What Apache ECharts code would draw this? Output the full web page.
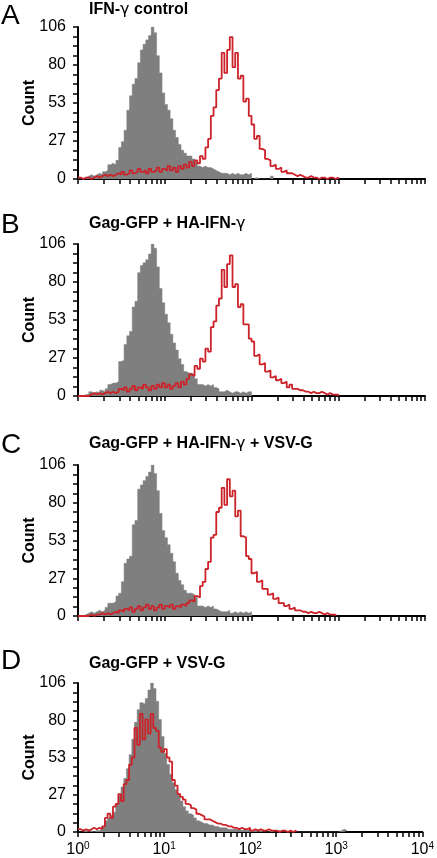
<!DOCTYPE html>
<html><head><meta charset="utf-8">
<script src="https://cdn.jsdelivr.net/npm/echarts@6/dist/echarts.min.js"></script>
<style>html,body{margin:0;padding:0;background:#fff}#c{width:437px;height:858px}</style>
</head><body><div id="c"></div>
<script>
// bin width in decades of fluorescence (log10 scale), bins start at 10^0
const BIN = 1 / 32;
const panelLetters = ['A', 'B', 'C', 'D'];
const panelTitles = [
  ['IFN-', 'γ', ' control'],
  ['Gag-GFP + HA-IFN-', 'γ', ''],
  ['Gag-GFP + HA-IFN-', 'γ', ' + VSV-G'],
  ['Gag-GFP + VSV-G', '', '']
];
const yTickValues = [0, 26.5, 53, 79.5, 106];
const xDecades = [0, 1, 2, 3, 4];

// Panel A
const grayA = [0,0,1,2,3,2,3,4,3,5, 6,10,11,10,13,22,26,34,48,58, 66,70,81,90,94,97,100,106,102,86,
  74,60,52,48,42,34,29,24,20,18, 16,16,14,12,9,8,9,8,8,7, 6,5,4,4,4,3,4,3,4,3, 3,4,3,4,0,1,0,0,0,0, 0,2,0];
const redA = [1,0,1,1,0,1,2,1,2,3, 2,3,2,3,4,3,5,3,4,6, 4,5,7,5,6,4,7,5,6,8, 5,7,6,9,6,8,5,9,7,10,
  8,12,9,13,11,16,14,22,28,44, 50,62,70,88,74,90,99,78,88,70, 72,54,56,44,38,28,30,21,20,14,
  13,9,10,7,8,5,6,4,4,3, 2,3,2,1,1,2,1,1,0,1, 1,0,1,1,0,1,0];
// Panel B
const grayB = [0,0,1,1,3,2,3,2,4,3, 5,8,9,9,10,24,25,36,42,45, 62,66,86,91,93,95,99,106,103,90,
  75,65,57,51,43,37,32,26,22,17, 16,16,15,12,8,8,7,8,7,8, 6,5,3,3,4,3,2,3,3,2, 3,2,3,3,0];
const redB = [0,0,0,0,1,2,1,2,1,2, 3,2,3,2,3,5,4,6,3,5, 7,4,6,5,8,6,4,7,5,8, 6,9,6,8,5,7,9,6,10,8,
  12,15,14,21,19,26,24,33,31,48, 52,63,68,88,76,92,98,76,78,62, 64,50,50,40,38,28,29,22,23,17,
  18,13,14,11,12,9,10,6,8,5, 5,4,4,3,3,2,3,2,2,3, 2,1,2,1,1,1,0];
// Panel C
const grayC = [0,0,1,2,3,2,3,4,3,4, 6,9,9,10,14,16,24,37,40,42, 64,67,89,92,95,98,101,106,100,88,
  72,60,55,50,44,38,30,25,22,18, 16,16,15,13,7,7,6,7,6,7, 5,4,3,3,3,4,2,3,2,3, 2,3,2,3,0];
const redC = [0,0,0,0,1,0,1,1,2,1, 2,1,2,3,2,4,3,5,4,6, 3,5,7,4,6,8,5,7,4,6, 8,5,7,6,8,5,7,6,8,7,
  9,11,10,14,13,21,24,33,38,55, 57,73,76,90,78,96,84,88,70,74, 56,55,42,40,30,31,24,25,19,19,
  15,16,12,13,9,9,7,8,5,6, 4,4,3,3,2,3,2,2,3,2, 1,2,1,1,1,0];
// Panel D
const grayD = [0,0,1,0,1,0,1,1,2,4, 8,10,12,14,20,26,32,38,45,55, 66,78,87,92,91,95,101,106,102,93,
  80,68,56,48,41,35,30,27,22,18, 15,13,12,10,8,7,6,6,5,5, 4,4,3,3,3,2,2,2,2,2, 1,2,1,2,1,1,0,1,0,0,
  0,1,0,0,1,0,0,0,0,0, 0,0,0,0,0,0,0,0,0,0, 0,0,0,0,0,0,0,1,2,1, 0];
const redD = [2,1,2,1,2,3,2,3,2,4, 10,13,10,18,20,27,22,34,37,48, 53,74,62,84,66,80,70,84,74,72,
  60,57,59,53,50,37,33,27,25,23, 20,19,17,16,13,12,11,9,9,8, 7,6,6,5,5,4,4,3,3,2,
  3,2,2,3,1,2,1,2,1,1, 2,1,1,1,0,1,1,0,1,0, 1,0];

const grayData = [grayA, grayB, grayC, grayD];
const redData = [redA, redB, redC, redD];

// layout
const layout = [
  { top: 27, height: 152, titleY: 10, letterY: 16 },
  { top: 244, height: 152, titleY: 224, letterY: 225 },
  { top: 465, height: 151, titleY: 444, letterY: 445 },
  { top: 683, height: 150, titleY: 664, letterY: 661 }
];
const FONT = '"Liberation Sans", Arial, Helvetica, sans-serif';
const GRAY = '#7f7f7f';
const RED = '#cc2229';

// tick positions on the log axis: 1..9 x 10^d
const xTickVals = [];
xDecades.slice(0, 4).forEach(d => { for (let k = 1; k <= 9; k++) xTickVals.push(d + Math.log10(k)); });
xTickVals.push(4);

const toPoints = arr => arr.map((v, i) => [i * BIN, v]);

const grid = [], xAxis = [], yAxis = [], series = [], graphic = [];
layout.forEach((L, p) => {
  grid.push({ left: 78, right: 12, top: L.top, height: L.height });
  xAxis.push({
    type: 'value', gridIndex: p, min: 0, max: 4,
    axisLine: { show: true, onZero: false, lineStyle: { color: '#000', width: 2 } },
    axisTick: { show: true, length: 5, customValues: xTickVals, lineStyle: { color: '#000', width: 1.5 } },
    splitLine: { show: false },
    axisLabel: {
      show: p === 3, customValues: xDecades, margin: 9,
      formatter: v => '{b|10}{s|' + Math.round(v) + '}',
      rich: {
        b: { fontSize: 16, fontFamily: FONT, color: '#000' },
        s: { fontSize: 10, fontFamily: FONT, color: '#000', verticalAlign: 'top', padding: [0, 0, 8, 0] }
      }
    }
  });
  yAxis.push({
    type: 'value', gridIndex: p, min: 0, max: 106, interval: 26.5,
    name: 'Count', nameLocation: 'middle', nameGap: 40, nameRotate: 90, nameMoveOverlap: false,
    nameTextStyle: { fontSize: 16, fontWeight: 'bold', fontFamily: FONT, color: '#000' },
    axisLine: { show: true, lineStyle: { color: '#000', width: 2 } },
    axisTick: { show: true, length: 5, lineStyle: { color: '#000', width: 1.5 } },
    minorTick: { show: true, splitNumber: 4, length: 5, lineStyle: { color: '#000', width: 1.5 } },
    splitLine: { show: false },
    axisLabel: { fontSize: 16, fontFamily: FONT, color: '#000', margin: 12, formatter: v => String(Math.round(v)) }
  });
  series.push({
    type: 'line', xAxisIndex: p, yAxisIndex: p, step: 'end', symbol: 'none',
    data: toPoints(grayData[p]),
    lineStyle: { width: 0.5, color: GRAY }, areaStyle: { color: GRAY, opacity: 1 },
    z: 2, silent: true, animation: false
  });
  series.push({
    type: 'line', xAxisIndex: p, yAxisIndex: p, step: 'end', symbol: 'none',
    data: toPoints(redData[p]),
    lineStyle: { width: 1.8, color: RED },
    z: 3, silent: true, animation: false
  });
  const t = panelTitles[p];
  graphic.push({
    type: 'text', x: 89, y: L.titleY,
    style: {
      text: '{b|' + t[0] + '}' + (t[1] ? '{g|' + t[1] + '}' : '') + (t[2] ? '{b|' + t[2] + '}' : ''),
      verticalAlign: 'middle', align: 'left',
      rich: {
        b: { fontSize: 16, fontWeight: 'bold', fontFamily: FONT, fill: '#000' },
        g: { fontSize: 16, fontFamily: '"DejaVu Sans", ' + FONT, fill: '#000' }
      }
    }
  });
  graphic.push({
    type: 'text', x: 1, y: L.letterY,
    style: { text: panelLetters[p], fontSize: 28, fontFamily: FONT, fill: '#000', verticalAlign: 'middle', align: 'left' }
  });
});

const chart = echarts.init(document.getElementById('c'), null, { renderer: 'canvas' });
chart.setOption({ animation: false, backgroundColor: '#fff', grid, xAxis, yAxis, series, graphic });
</script>
</body></html>
